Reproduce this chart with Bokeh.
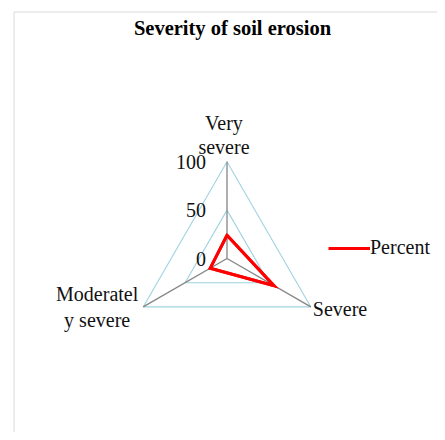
import numpy as np
from bokeh.plotting import figure
from bokeh.models import Legend, LegendItem, Label, Range1d, BoxAnnotation
from bokeh.core.properties import value
from bokeh.embed import file_html
from bokeh.resources import INLINE

# ---- data ----
title = "Severity of soil erosion"
categories = ["Very severe", "Severe", "Moderately severe"]
category_labels = ["Very\nsevere", "Severe", "Moderatel\ny severe"]
percent = [24, 56, 20]
series_name = "Percent"
tick_values = [0, 50, 100]
tick_labels = ["0", "50", "100"]
r_max = 100

# ---- geometry ----
angles = np.deg2rad([90, -30, 210])
cx, cy = np.cos(angles), np.sin(angles)

FONT = "Liberation Serif"
TXT = "#111111"
s = 0.968  # px per unit

W, H = 437, 432
cxs, cys = 226.5, 258.0
x0 = -cxs / s
y1 = cys / s

p = figure(width=W, height=H, output_backend="svg", toolbar_location=None,
           x_range=Range1d(x0, x0 + W / s), y_range=Range1d(y1 - H / s, y1),
           min_border_left=0, min_border_top=0, min_border_right=0, min_border_bottom=0)
p.axis.visible = False
p.grid.visible = False
p.outline_line_color = None
p.background_fill_color = "white"
p.border_fill_color = "white"

# chart-area border (top and left visible, right/bottom outside the view)
p.add_layout(BoxAnnotation(left=(13.5 - cxs) / s, top=(cys - 11.5) / s,
                           right=x0 + W / s + 60, bottom=y1 - H / s - 60,
                           fill_alpha=0, line_color="#d9d9d9", line_width=1,
                           line_alpha=1))

# grid triangles
for lvl in tick_values[1:]:
    p.patch(list(cx * lvl), list(cy * lvl), fill_alpha=0, line_color="#9fd3e0", line_width=1.1)

# spokes
for i in range(3):
    p.line([0, cx[i] * r_max], [0, cy[i] * r_max], line_color="#858585", line_width=1.3)

# series
vals = np.array(percent, dtype=float)
sx = list(cx * vals)
sy = list(cy * vals)
p.patch(sx, sy, fill_alpha=0, line_color="#ff0000", line_width=3, line_join="miter")
lr = p.line(sx + [sx[0]], sy + [sy[0]], line_color="#ff0000", line_width=3, line_join="miter")

# tick labels
p.text(x=[0] * len(tick_values), y=tick_values, text=tick_labels,
       text_font=value(FONT), text_font_size="20px", text_color=TXT,
       text_align="right", text_baseline="middle", x_offset=-21, y_offset=0)

# category labels
p.text(x=[cx[0] * r_max], y=[cy[0] * r_max], text=[category_labels[0]],
       text_font=value(FONT), text_font_size="20px", text_color=TXT,
       text_align="center", text_baseline="bottom", x_offset=-3, y_offset=-4,
       text_line_height=1.1)
p.text(x=[cx[1] * r_max], y=[cy[1] * r_max], text=[category_labels[1]],
       text_font=value(FONT), text_font_size="20px", text_color=TXT,
       text_align="left", text_baseline="middle", x_offset=2, y_offset=2)
p.text(x=[cx[2] * r_max], y=[cy[2] * r_max], text=[category_labels[2]],
       text_font=value(FONT), text_font_size="20px", text_color=TXT,
       text_align="center", text_baseline="middle", x_offset=-46, y_offset=0,
       text_line_height=1.15)

# title
p.add_layout(Label(x=(232 - cxs) / s, y=(cys - 27) / s, text=title,
                   text_font=FONT, text_font_size="20.5px", text_font_style="bold",
                   text_color="#000000", text_align="center", text_baseline="middle"))

legend = Legend(items=[LegendItem(label=series_name, renderers=[lr])],
                location=(328, 432 - 259), glyph_width=42, glyph_height=20,
                label_standoff=0, padding=0, margin=0, border_line_color=None,
                background_fill_alpha=0, label_text_font=FONT,
                label_text_font_size="20px", label_height=20, label_text_color=TXT)
p.add_layout(legend)

open("out.html", "w").write(file_html(p, INLINE))
